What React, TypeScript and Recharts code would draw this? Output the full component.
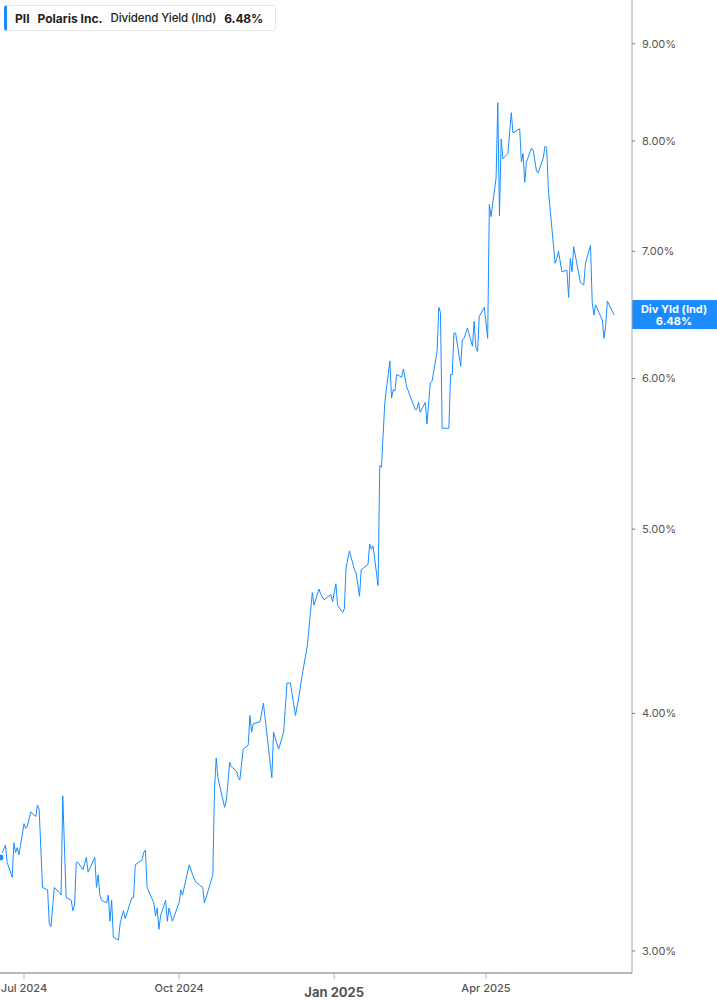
import { LineChart, Line, XAxis, YAxis, ReferenceLine } from "recharts"

// trading days (not every session is listed)
const dates = [
  "2024-06-17", "2024-06-20", "2024-06-21", "2024-06-24", "2024-06-25", "2024-06-26", "2024-06-27", "2024-06-28",
  "2024-07-01", "2024-07-02", "2024-07-03", "2024-07-05", "2024-07-08", "2024-07-09", "2024-07-10", "2024-07-12",
  "2024-07-15", "2024-07-16", "2024-07-17", "2024-07-19", "2024-07-22", "2024-07-23", "2024-07-24", "2024-07-26",
  "2024-07-29", "2024-07-30", "2024-07-31", "2024-08-01", "2024-08-02", "2024-08-05", "2024-08-07", "2024-08-08",
  "2024-08-12", "2024-08-13", "2024-08-14", "2024-08-15", "2024-08-16", "2024-08-19", "2024-08-20", "2024-08-21",
  "2024-08-22", "2024-08-23", "2024-08-26", "2024-08-27", "2024-08-29", "2024-08-30", "2024-09-03", "2024-09-04",
  "2024-09-05", "2024-09-09", "2024-09-10", "2024-09-11", "2024-09-12", "2024-09-16", "2024-09-17", "2024-09-18",
  "2024-09-19", "2024-09-20", "2024-09-23", "2024-09-24", "2024-09-25", "2024-09-27", "2024-10-01", "2024-10-02",
  "2024-10-03", "2024-10-07", "2024-10-09", "2024-10-11", "2024-10-15", "2024-10-16", "2024-10-17", "2024-10-21",
  "2024-10-22", "2024-10-23", "2024-10-24", "2024-10-28", "2024-10-29", "2024-10-31", "2024-11-01", "2024-11-04",
  "2024-11-05", "2024-11-06", "2024-11-08", "2024-11-11", "2024-11-12", "2024-11-13", "2024-11-14", "2024-11-18",
  "2024-11-20", "2024-11-25", "2024-11-26", "2024-11-29", "2024-12-02", "2024-12-04", "2024-12-06", "2024-12-09",
  "2024-12-11", "2024-12-13", "2024-12-16", "2024-12-19", "2024-12-20", "2024-12-23", "2024-12-24", "2024-12-26",
  "2024-12-30", "2024-12-31", "2025-01-02", "2025-01-03", "2025-01-06", "2025-01-07", "2025-01-08", "2025-01-10",
  "2025-01-13", "2025-01-14", "2025-01-16", "2025-01-17", "2025-01-21", "2025-01-22", "2025-01-23", "2025-01-24",
  "2025-01-27", "2025-01-28", "2025-01-29", "2025-01-31", "2025-02-03", "2025-02-04", "2025-02-05", "2025-02-06",
  "2025-02-07", "2025-02-10", "2025-02-11", "2025-02-13", "2025-02-18", "2025-02-19", "2025-02-20", "2025-02-21",
  "2025-02-24", "2025-02-25", "2025-02-27", "2025-02-28", "2025-03-03", "2025-03-04", "2025-03-05", "2025-03-06",
  "2025-03-10", "2025-03-11", "2025-03-12", "2025-03-13", "2025-03-14", "2025-03-17", "2025-03-18", "2025-03-19",
  "2025-03-21", "2025-03-24", "2025-03-25", "2025-03-26", "2025-03-27", "2025-03-28", "2025-03-31", "2025-04-02",
  "2025-04-03", "2025-04-04", "2025-04-07", "2025-04-08", "2025-04-09", "2025-04-10", "2025-04-11", "2025-04-14",
  "2025-04-16", "2025-04-17", "2025-04-21", "2025-04-22", "2025-04-23", "2025-04-24", "2025-04-25", "2025-04-28",
  "2025-04-29", "2025-05-01", "2025-05-02", "2025-05-05", "2025-05-06", "2025-05-07", "2025-05-08", "2025-05-12",
  "2025-05-13", "2025-05-14", "2025-05-16", "2025-05-19", "2025-05-20", "2025-05-21", "2025-05-22", "2025-05-23",
  "2025-05-27", "2025-05-29", "2025-05-30", "2025-06-02", "2025-06-03", "2025-06-04", "2025-06-05", "2025-06-09",
  "2025-06-10", "2025-06-11", "2025-06-12", "2025-06-16",
]

// dividend yield, %
const yields = [
  3.36, 3.41, 3.34, 3.28, 3.42, 3.38, 3.4, 3.37,
  3.5, 3.48, 3.49, 3.55, 3.53, 3.58, 3.56, 3.24,
  3.23, 3.1, 3.09, 3.24, 3.22, 3.21, 3.62, 3.2,
  3.19, 3.15, 3.17, 3.34, 3.34, 3.31, 3.36, 3.3,
  3.36, 3.24, 3.29, 3.21, 3.19, 3.18, 3.21, 3.11,
  3.19, 3.05, 3.04, 3.1, 3.15, 3.12, 3.2, 3.2,
  3.33, 3.35, 3.38, 3.39, 3.24, 3.18, 3.13, 3.16,
  3.08, 3.13, 3.19, 3.11, 3.16, 3.11, 3.18, 3.23,
  3.21, 3.33, 3.29, 3.26, 3.24, 3.18, 3.2, 3.29,
  3.65, 3.79, 3.7, 3.57, 3.6, 3.77, 3.75, 3.73,
  3.7, 3.69, 3.83, 3.85, 3.99, 3.91, 3.95, 3.96,
  4.05, 3.7, 3.91, 3.83, 3.91, 4.15, 4.15, 3.99,
  4.08, 4.19, 4.34, 4.63, 4.56, 4.65, 4.62, 4.59,
  4.62, 4.58, 4.68, 4.56, 4.52, 4.54, 4.77, 4.87,
  4.76, 4.74, 4.61, 4.76, 4.79, 4.91, 4.88, 4.9,
  4.67, 5.4, 5.39, 5.83, 6.13, 5.86, 5.92, 5.91,
  6.03, 6.01, 6.07, 5.94, 5.78, 5.78, 5.83, 5.76,
  5.83, 5.68, 5.97, 5.98, 6.2, 6.54, 6.5, 5.65,
  5.65, 6.03, 6.03, 6.34, 6.34, 6.09, 6.29, 6.3,
  6.38, 6.24, 6.43, 6.23, 6.2, 6.47, 6.54, 6.3,
  7.41, 7.3, 7.65, 8.38, 7.31, 8.02, 7.83, 7.88,
  8.28, 8.08, 8.12, 7.8, 7.88, 7.61, 7.8, 7.93,
  7.91, 7.71, 7.7, 7.84, 7.95, 7.94, 7.54, 6.9,
  6.94, 7.0, 6.83, 6.84, 6.62, 6.94, 6.83, 7.04,
  6.74, 6.72, 6.9, 7.05, 6.58, 6.48, 6.56, 6.44,
  6.3, 6.4, 6.59, 6.48,
]

const xTickDates = ["2024-07-01", "2024-10-01", "2025-01-01", "2025-04-01"]
const xTickLabels = ["Jul 2024", "Oct 2024", "Jan 2025", "Apr 2025"]
const yTicks = [3, 4, 5, 6, 7, 8, 9]

const ticker = "PII"
const company = "Polaris Inc."
const metric = "Dividend Yield (Ind)"
const shortMetric = "Div Yld (Ind)"

const BLUE = "#1a8cff"
const DAY = 86400000
const FONT = "Inter, 'Noto Sans', sans-serif"

const data = dates.map((d, i) => ({ t: Date.parse(d), v: yields[i] }))
const last = yields[yields.length - 1]
const jul1 = Date.parse(xTickDates[0])
const xDomain = [jul1 - 14.23 * DAY, jul1 + 360.6 * DAY]
const xTicks = xTickDates.map((d) => Date.parse(d))

const fmt = (v: number) => v.toFixed(2) + "%"

const DateTick = ({ x, y, payload }: any) => {
  const label = xTickLabels[xTicks.indexOf(payload.value)]
  if (!label) return null
  const major = label.startsWith("Jan")
  return (
    <text
      x={x}
      y={y}
      dy={major ? 16 : 11}
      textAnchor="middle"
      fontSize={major ? 13 : 11}
      fontWeight={major ? 700 : 500}
      fill="#555"
      fontFamily={FONT}
    >
      {label}
    </text>
  )
}

const LastTag = ({ viewBox }: any) => {
  const x = viewBox.x + viewBox.width
  const y = viewBox.y
  return (
    <g fontFamily={FONT} fontWeight={700} fontSize={11} fill="#fff">
      <rect x={x} y={y - 15} width={85} height={29} fill={BLUE} />
      <text x={x + 42} y={y - 6} dy="0.355em" textAnchor="middle">
        {shortMetric}
      </text>
      <text x={x + 42} y={y + 6} dy="0.355em" textAnchor="middle">
        {fmt(last)}
      </text>
    </g>
  )
}

export default function App() {
  return (
    <div style={{ position: "absolute", left: 0, top: 0, width: 717, height: 1005, background: "#fff", fontFamily: FONT }}>
      <LineChart width={717} height={1005} data={data} margin={{ top: 0, right: 0, bottom: 0, left: 0 }}>
        <XAxis
          dataKey="t"
          type="number"
          scale="time"
          domain={xDomain}
          ticks={xTicks}
          interval={0}
          allowDataOverflow
          height={32}
          axisLine={{ stroke: "#b8b8b8", strokeWidth: 2 }}
          tickLine={{ stroke: "#b8b8b8" }}
          tickSize={6}
          tick={<DateTick />}
        />
        <YAxis
          orientation="right"
          scale="log"
          domain={[2.921, 9.49]}
          ticks={yTicks}
          interval={0}
          allowDataOverflow
          width={85}
          axisLine={{ stroke: "#a8a8a8" }}
          tickLine={{ stroke: "#777" }}
          tickSize={3}
          tickMargin={7}
          tick={{ fill: "#555", fontSize: 11, fontFamily: FONT }}
          tickFormatter={fmt}
        />
        <Line type="linear" dataKey="v" stroke={BLUE} strokeWidth={1} dot={false} isAnimationActive={false} />
        <ReferenceLine y={last} stroke="none" label={(p: any) => <LastTag {...p} />} />
      </LineChart>
      <div
        style={{
          position: "absolute",
          left: 4,
          top: 5,
          height: 24,
          display: "flex",
          alignItems: "center",
          gap: 8,
          padding: "0 12px 0 8px",
          background: "#fff",
          border: "1px solid #e8e8e8",
          borderLeft: `3px solid ${BLUE}`,
          borderRadius: 3,
          fontSize: 12,
          color: "#222",
          whiteSpace: "nowrap",
        }}
      >
        <span style={{ fontWeight: 700 }}>{ticker}</span>
        <span style={{ fontWeight: 700 }}>{company}</span>
        <span style={{ fontWeight: 500, fontSize: 11.5, letterSpacing: -0.1 }}>{metric}</span>
        <span style={{ fontWeight: 700, letterSpacing: -0.2 }}>{fmt(last)}</span>
      </div>
    </div>
  )
}
